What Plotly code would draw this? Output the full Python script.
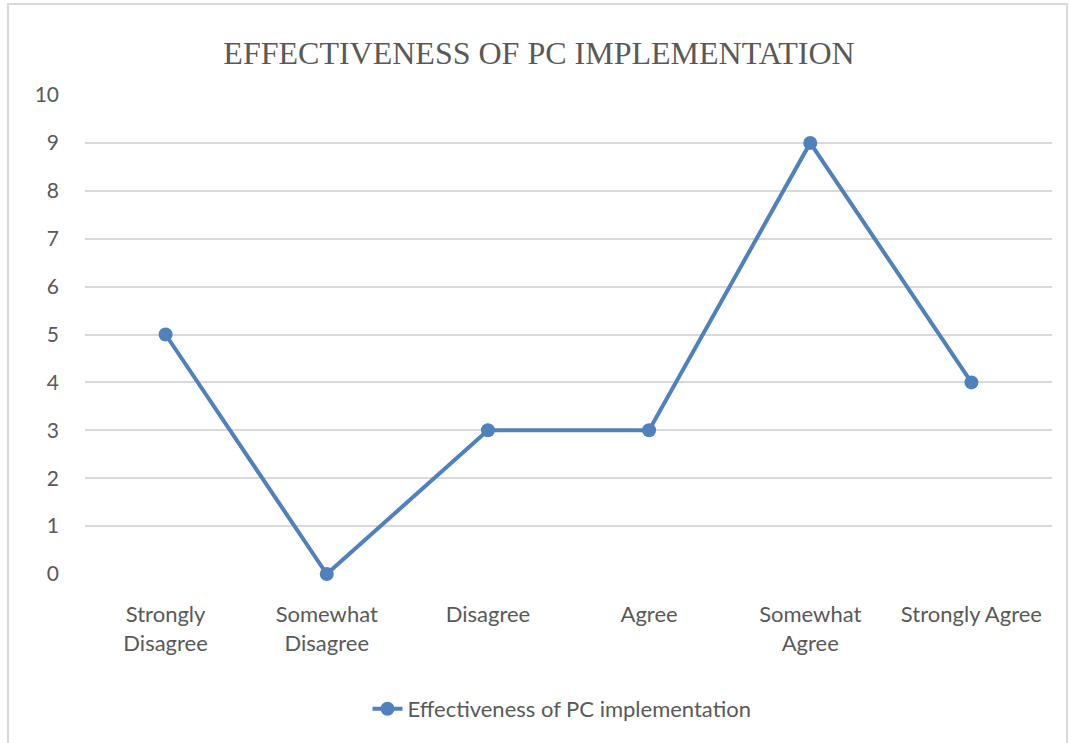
import plotly.graph_objects as go

categories = ["Strongly<br>Disagree", "Somewhat<br>Disagree", "Disagree", "Agree", "Somewhat<br>Agree", "Strongly Agree"]
values = [5, 0, 3, 3, 9, 4]
series_name = "Effectiveness of PC implementation"
title_text = "EFFECTIVENESS OF PC IMPLEMENTATION"

color = "#4F81BD"
text_color = "#595959"

W, H = 1069, 743
L, R, T, B = 85, 17, 95, 169
PW, PH = W - L - R, H - T - B

fig = go.Figure()
fig.add_trace(go.Scatter(
    x=list(range(len(categories))), y=values, mode="lines+markers",
    name=series_name,
    line=dict(color=color, width=4),
    marker=dict(color=color, size=14),
    cliponaxis=False,
))

fig.update_layout(
    width=W, height=H,
    margin=dict(l=L, r=R, t=T, b=B),
    paper_bgcolor="white", plot_bgcolor="white",
    title=dict(text=title_text, x=539 / W, xanchor="center", y=1 - 53 / H, yanchor="middle",
               font=dict(family="Liberation Serif", size=32, color=text_color)),
    xaxis=dict(range=[-0.5, 5.5], tickmode="array", tickvals=list(range(len(categories))),
               ticktext=categories, showgrid=False, zeroline=False, showline=False,
               tickfont=dict(family="Lato", size=22, color=text_color), ticks="",
               ticklabelstandoff=25, fixedrange=True),
    yaxis=dict(range=[0, 10], dtick=1, showgrid=True, gridcolor="#D9D9D9", gridwidth=1.5,
               zeroline=False, showline=False, ticks="", ticklabelstandoff=25,
               tickfont=dict(family="Lato", size=21, color=text_color)),
    showlegend=True,
    legend=dict(orientation="h", x=(562 - L) / PW, xanchor="center", y=(574 - 709) / PH, yanchor="middle",
                font=dict(family="Lato", size=22, color=text_color)),
)

fig.add_shape(type="rect", xref="paper", yref="paper",
              x0=(8 - L) / PW, x1=(1067 - L) / PW, y0=-(H - 574 + 10) / PH, y1=1 + (T - 4) / PH,
              line=dict(color="#D9D9D9", width=2), fillcolor="rgba(0,0,0,0)", layer="below")

fig.write_html("out.html", config={"displayModeBar": False},
               post_script="document.body.style.margin='0px';")
